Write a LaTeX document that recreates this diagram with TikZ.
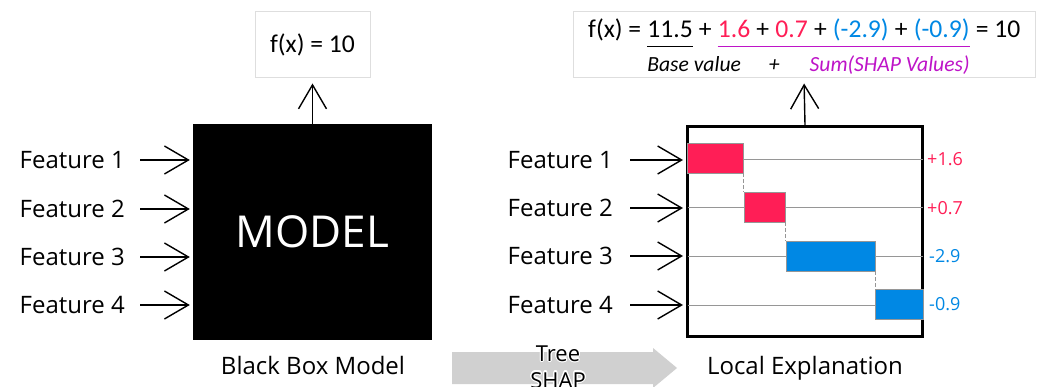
\documentclass[tikz,border=0pt]{standalone}
\usepackage{fontspec}
\usepackage{contour}
\contourlength{1.1pt}
\setmainfont{Open Sans}
\newfontfamily\calfont{Carlito}
\usetikzlibrary{arrows.meta,calc}
\definecolor{shpink}{RGB}{255,30,86}
\definecolor{shblue}{RGB}{0,136,228}
\definecolor{shpurple}{RGB}{190,20,200}
\definecolor{boxgray}{RGB}{222,222,222}
\definecolor{linegray}{RGB}{150,150,150}
\definecolor{arrgray}{RGB}{208,208,208}
\begin{document}
\begin{tikzpicture}[x=1pt,y=-1pt,
  feat/.style={font=\fontsize{24}{28}\selectfont, anchor=east, inner sep=0pt},
  barrow/.style={-{Straight Barb[length=24pt,width=28pt]}, line width=1.4pt},
  outbox/.style={draw=boxgray, line width=1pt, inner sep=0pt},
  fm/.style={font=\calfont\fontsize{25.6}{30}\selectfont, inner sep=0pt, anchor=base west},
  fmi/.style={font=\calfont\itshape\fontsize{21.6}{25}\selectfont, inner sep=0pt},
  bar/.style={draw=linegray, line width=0.8pt, inner sep=0pt, minimum height=30pt},
  val/.style={font=\fontsize{18}{22}\selectfont, anchor=west, inner sep=0pt},
  rowline/.style={draw=linegray, line width=1pt},
  caption/.style={font=\fontsize{24}{28}\selectfont, anchor=base, inner sep=0pt},
  dashlink/.style={draw=linegray, line width=0.8pt, dash pattern=on 4pt off 2pt}
]
\useasboundingbox (0,0) rectangle (1040,387);
\fill[white] (0,0) rectangle (1040,387);

% ---------- left: black box model ----------
\node[fill=black, minimum width=239pt, minimum height=216pt, inner sep=0pt,
      text=white, font=\fontsize{44}{50}\selectfont] (model) at (312.5,232) {MODEL};

\node[feat] (lf1) at (125,160) {Feature 1};
\node[feat] (lf2) at (125,209) {Feature 2};
\node[feat] (lf3) at (125,257) {Feature 3};
\node[feat] (lf4) at (125,305) {Feature 4};
\foreach \i in {1,...,4}{
  \draw[barrow] ($(lf\i.east)+(15,0)$) -- ($(model.west |- lf\i.east)+(-3,0)$);
}

\node[outbox, minimum width=115pt, minimum height=66pt] (out1) at (312.5,45) {};
\node[fm, anchor=center] (out1t) at (out1.center) {f(x) = 10};
\draw[barrow, shorten >=5pt] (model.north) -- (out1.south);

\node[caption] (cap1) at (313,374) {Black Box Model};

% ---------- right: local explanation ----------
\node[draw=black, line width=3pt, minimum width=235pt, minimum height=210pt, inner sep=0pt] (expl) at (805,231.5) {};

\node[feat] (rf1) at (613,160) {Feature 1};
\node[feat] (rf2) at (613,208) {Feature 2};
\node[feat] (rf3) at (613,256) {Feature 3};
\node[feat] (rf4) at (613,305) {Feature 4};
\foreach \i in {1,...,4}{
  \draw[barrow] ($(rf\i.east)+(17,0)$) -- ($(expl.west |- rf\i.east)+(-3,0)$);
}

% row lines
\foreach \i in {1,...,4}{
  \draw[rowline] ($(expl.west |- rf\i.east)+(1.5,0)$) -- ($(expl.east |- rf\i.east)+(-1.5,0)$);
}

% bars
\node[bar, fill=shpink, minimum width=56pt, anchor=west] (b1) at (687,158) {};
\node[bar, fill=shpink, minimum width=41pt, anchor=west] (b2) at (b1.east |- 0,207) {};
\node[bar, fill=shblue, minimum width=89pt, anchor=west] (b3) at (b2.east |- 0,256) {};
\node[bar, fill=shblue, minimum width=48pt, anchor=west] (b4) at (b3.east |- 0,304) {};
\draw[dashlink] (b1.south east) -- (b2.north west);
\draw[dashlink] (b2.south east) -- (b3.north west);
\draw[dashlink] (b3.south east) -- (b4.north west);

\node[val, text=shpink] (v1) at (927,159) {+1.6};
\node[val, text=shpink] (v2) at (927,208) {+0.7};
\node[val, text=shblue] (v3) at (929,256) {-2.9};
\node[val, text=shblue] (v4) at (929,304) {-0.9};

% formula box
\node[outbox, minimum width=462pt, minimum height=66pt] (out2) at (804,45) {};
\node[fm] (t1) at (588,38) {f(x) =\ \null};
\node[fm] (t2) at (t1.base east) {11.5};
\node[fm] (t3) at (t2.base east) {\null\ +\ \null};
\node[fm, text=shpink] (t4) at (t3.base east) {1.6};
\node[fm] (t5) at (t4.base east) {\null\ +\ \null};
\node[fm, text=shpink] (t6) at (t5.base east) {0.7};
\node[fm] (t7) at (t6.base east) {\null\ +\ \null};
\node[fm, text=shblue] (t8) at (t7.base east) {(-2.9)};
\node[fm] (t9) at (t8.base east) {\null\ +\ \null};
\node[fm, text=shblue] (t10) at (t9.base east) {(-0.9)};
\node[fm] (t11) at (t10.base east) {\null\ = 10};
\draw[line width=1pt] ($(t2.base west)+(0,9)$) -- ($(t2.base east)+(0,9)$);
\draw[shpurple, line width=1pt] ($(t4.base west)+(0,9)$) -- ($(t10.base east)+(0,9)$);
\node[fmi, anchor=base west] (bv) at ($(t2.base west)+(0,34)$) {Base value};
\node[fmi, anchor=base] (pl) at ($(t2.base west)+(127,34)$) {+};
\node[fmi, anchor=base east, text=shpurple] (sv) at ($(t10.base east)+(0,34)$) {Sum(SHAP Values)};
\draw[barrow, shorten >=5pt] (expl.north) -- (out2.south);

\node[caption] (cap2) at (805,374) {Local Explanation};

% ---------- Tree SHAP arrow ----------
\fill[arrgray] (452,352) -- (653,352) -- (653,348) -- (677,368) -- (653,388) -- (653,384) -- (452,384) -- cycle;
\node[align=center, font=\fontsize{22}{27}\selectfont, inner sep=0pt, anchor=base] (ts) at (558,388) {\contour{white}{Tree}\\\contour{white}{SHAP}};
\end{tikzpicture}
\end{document}
